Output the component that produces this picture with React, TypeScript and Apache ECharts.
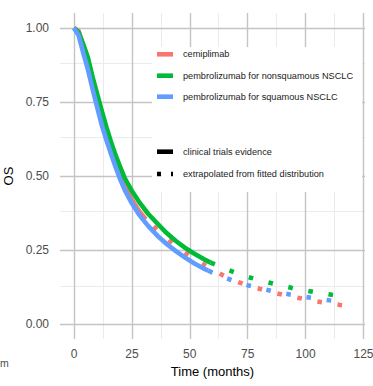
import React, { useEffect, useRef } from "react";
import * as echarts from "echarts";

// ---- data (months, overall survival) ----
const cemiTrialMonths = [0, 2, 4, 6, 8, 10, 12, 14, 16, 18, 20, 22, 25, 28, 31];
const cemiTrialOS = [1.0, 0.99, 0.94, 0.882, 0.817, 0.752, 0.692, 0.638, 0.589, 0.544, 0.502, 0.465, 0.42, 0.383, 0.354];
const cemiExtraMonths = [31, 34, 37, 40, 44, 48, 52, 56, 60, 65, 70, 75, 80, 85, 90, 95, 100, 105, 110, 115, 118];
const cemiExtraOS = [0.354, 0.333, 0.311, 0.29, 0.265, 0.242, 0.221, 0.202, 0.184, 0.162, 0.145, 0.131, 0.12, 0.109, 0.1, 0.092, 0.084, 0.077, 0.071, 0.065, 0.062];

const nonsqTrialMonths = [0, 2, 4, 6, 8, 10, 12, 14, 16, 18, 20, 22, 25, 28, 32, 36, 40, 44, 48, 52, 56, 59];
const nonsqTrialOS = [1.0, 0.985, 0.945, 0.9, 0.835, 0.778, 0.72, 0.665, 0.615, 0.57, 0.53, 0.492, 0.45, 0.414, 0.373, 0.34, 0.308, 0.281, 0.258, 0.238, 0.22, 0.208];
const nonsqExtraMonths = [59, 62, 66, 70, 75, 80, 85, 90, 95, 100, 105, 110, 115];
const nonsqExtraOS = [0.208, 0.198, 0.185, 0.173, 0.16, 0.149, 0.139, 0.13, 0.121, 0.114, 0.107, 0.101, 0.095];

const sqTrialMonths = [0, 2, 4, 6, 8, 10, 12, 14, 16, 18, 20, 22, 25, 28, 32, 36, 40, 44, 48, 52, 56, 58];
const sqTrialOS = [1.0, 0.975, 0.916, 0.86, 0.795, 0.733, 0.672, 0.622, 0.575, 0.53, 0.488, 0.452, 0.408, 0.371, 0.332, 0.299, 0.271, 0.247, 0.225, 0.205, 0.188, 0.181];
const sqExtraMonths = [58, 62, 66, 70, 75, 80, 85, 90, 95, 100, 105, 110, 115];
const sqExtraOS = [0.181, 0.167, 0.155, 0.144, 0.132, 0.122, 0.113, 0.105, 0.098, 0.092, 0.086, 0.081, 0.077];

const xTicks = [0, 25, 50, 75, 100, 125];
const xMinorTicks = [12.5, 37.5, 62.5, 87.5, 112.5];
const yTicks = [0, 0.25, 0.5, 0.75, 1.0];
const yMinorTicks = [0.125, 0.375, 0.625, 0.875];

const treatmentNames = ["cemiplimab", "pembrolizumab for nonsquamous NSCLC", "pembrolizumab for squamous NSCLC"];
const evidenceNames = ["clinical trials evidence", "extrapolated from fitted distribution"];
const treatmentColors = ["#F8766D", "#00BA38", "#619CFF"];

const FONT = "'Liberation Sans', Arial, Helvetica, sans-serif";

function pairs(t: number[], s: number[]) {
  return t.map((v, i) => [v, s[i]]);
}

export default function App() {
  const ref = useRef<HTMLDivElement>(null);

  useEffect(() => {
    const chart = echarts.init(ref.current!, null, { renderer: "svg" });
    const LW = 4.6;
    const DOT: number[] = [4.6, 15.8];
    const dashOffsets = [10, 0, 0];

    const trial = [
      pairs(cemiTrialMonths, cemiTrialOS),
      pairs(nonsqTrialMonths, nonsqTrialOS),
      pairs(sqTrialMonths, sqTrialOS),
    ];
    const extra = [
      pairs(cemiExtraMonths, cemiExtraOS),
      pairs(nonsqExtraMonths, nonsqExtraOS),
      pairs(sqExtraMonths, sqExtraOS),
    ];

    const dataSeries: any[] = [];
    for (let i = 0; i < 3; i++) {
      dataSeries.push({
        type: "line",
        name: treatmentNames[i] + " trial",
        data: trial[i],
        showSymbol: false,
        symbol: "none",
        smooth: false,
        silent: true,
        z: 3,
        lineStyle: { color: treatmentColors[i], width: LW, cap: "butt", join: "round" },
      });
      dataSeries.push({
        type: "line",
        name: treatmentNames[i] + " extrapolated",
        data: extra[i],
        showSymbol: false,
        symbol: "none",
        smooth: false,
        silent: true,
        z: 3,
        lineStyle: {
          color: treatmentColors[i],
          width: LW,
          cap: "butt",
          type: DOT,
          dashOffset: dashOffsets[i],
        },
      });
    }

    const gridSeries = (xs: number[], ys: number[], color: string, width: number) => ({
      type: "line",
      data: [],
      silent: true,
      z: 0,
      markLine: {
        z: 0,
        silent: true,
        symbol: ["none", "none"],
        label: { show: false },
        emphasis: { disabled: true },
        lineStyle: { color, width, type: "solid" },
        data: [...xs.map((v) => ({ xAxis: v })), ...ys.map((v) => ({ yAxis: v }))],
      },
    });

    const legendY1 = [54.3, 75.7, 96.7];
    const legendY2 = [151.7, 174];
    const graphics: any[] = [
      { type: "rect", z: 1, shape: { x: 152, y: 47, width: 210, height: 145 }, style: { fill: "#ffffff" } },
    ];
    treatmentNames.forEach((n, i) => {
      graphics.push({
        type: "line",
        z: 2,
        shape: { x1: 157, y1: legendY1[i], x2: 173, y2: legendY1[i] },
        style: { stroke: treatmentColors[i], lineWidth: LW, lineCap: "butt" },
      });
      graphics.push({
        type: "text",
        z: 2,
        x: 183,
        y: legendY1[i],
        style: { text: n, fontSize: 9.2, fill: "#1a1a1a", verticalAlign: "middle", fontFamily: FONT },
      });
    });
    evidenceNames.forEach((n, i) => {
      graphics.push({
        type: "line",
        z: 2,
        shape: { x1: 157, y1: legendY2[i], x2: 173, y2: legendY2[i] },
        style: {
          stroke: "#000000",
          lineWidth: LW,
          lineCap: "butt",
          lineDash: i === 0 ? null : [4, 10],
        },
      });
      graphics.push({
        type: "text",
        z: 2,
        x: 183,
        y: legendY2[i],
        style: { text: n, fontSize: 9.2, fill: "#1a1a1a", verticalAlign: "middle", fontFamily: FONT },
      });
    });
    graphics.push({
      type: "text",
      z: 2,
      x: 0,
      y: 363,
      style: { text: "m", fontSize: 10.5, fill: "#4d4d4d", verticalAlign: "middle", fontFamily: FONT },
    });

    chart.setOption({
      animation: false,
      backgroundColor: "#ffffff",
      textStyle: { fontFamily: FONT },
      grid: { left: 60, right: 8, top: 13, bottom: 47, containLabel: false, outerBoundsMode: "none" },
      xAxis: {
        type: "value",
        min: -6.04,
        max: 125.65,
        axisLine: { show: false },
        axisTick: { show: false },
        splitLine: { show: false },
        axisLabel: { customValues: xTicks, color: "#4d4d4d", fontSize: 12, margin: 9, fontFamily: FONT },
        name: "Time (months)",
        nameLocation: "middle",
        nameGap: 26,
        nameTextStyle: { color: "#000000", fontSize: 13, fontFamily: FONT },
      },
      yAxis: {
        type: "value",
        min: -0.0497,
        max: 1.0506,
        axisLine: { show: false },
        axisTick: { show: false },
        splitLine: { show: false },
        axisLabel: {
          customValues: yTicks,
          formatter: (v: number) => v.toFixed(2),
          color: "#4d4d4d",
          fontSize: 12,
          margin: 11,
          fontFamily: FONT,
        },
        name: "OS",
        nameLocation: "middle",
        nameGap: 42,
        nameTextStyle: { color: "#000000", fontSize: 13, fontFamily: FONT },
      },
      graphic: { elements: graphics },
      series: [
        gridSeries(xMinorTicks, yMinorTicks, "#ebebeb", 1),
        gridSeries(xTicks, yTicks, "#c4c4c4", 1.4),
        ...dataSeries,
      ],
    });

    return () => chart.dispose();
  }, []);

  return <div ref={ref} style={{ position: "absolute", left: 0, top: 0, width: 373, height: 386 }} />;
}
